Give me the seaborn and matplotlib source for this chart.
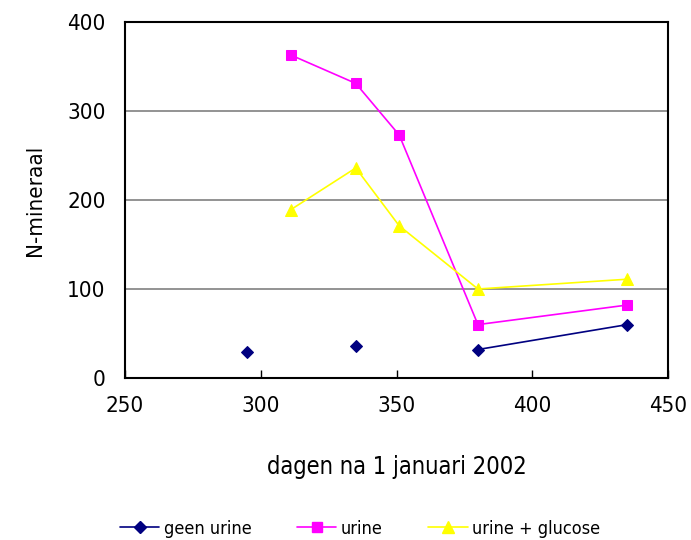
import numpy as np
import pandas as pd
import seaborn as sns
import matplotlib
matplotlib.use("Agg")
import matplotlib.pyplot as plt
from matplotlib.lines import Line2D

days = [295, 311, 335, 351, 380, 435]
geen_urine = [29, np.nan, 36, np.nan, 32, 60]
urine = [np.nan, 363, 331, 273, 60, 82]
urine_glucose = [np.nan, 189, 236, 171, 100, 111]

series_names = ["geen urine", "urine", "urine + glucose"]
series_vals = [geen_urine, urine, urine_glucose]
colors = ["#000080", "#FF00FF", "#FFFF00"]
markers = ["D", "s", "^"]
msizes = [6.5, 7, 8.5]

sns.set_theme(style="white")
plt.rcParams["font.family"] = ["DejaVu Sans"]
plt.rcParams["font.stretch"] = "condensed"
plt.rcParams["text.color"] = "black"
plt.rcParams["axes.labelcolor"] = "black"
plt.rcParams["xtick.color"] = "black"
plt.rcParams["ytick.color"] = "black"

fig = plt.figure(figsize=(6.91, 5.40), dpi=100)
ax = fig.add_axes([125/691, 1-378/540, (668-125)/691, (378-22)/540])

for name, vals, c, m, ms in zip(series_names, series_vals, colors, markers, msizes):
    df = pd.DataFrame({"dag": days, "N": vals})
    df["seg"] = df["N"].isna().cumsum()
    df = df.dropna()
    sns.lineplot(data=df, x="dag", y="N", units="seg", estimator=None,
                 color=c, marker=m, markersize=ms, markeredgecolor=c,
                 linewidth=1.2, ax=ax, legend=False)

ax.set_xlim(250, 450)
ax.set_ylim(0, 400)
ax.set_xticks([250, 300, 350, 400, 450])
ax.set_yticks([0, 100, 200, 300, 400])
ax.set_xticklabels(["250", "300", "350", "400", "450"])
for y in [100, 200, 300]:
    ax.axhline(y, color="#808080", linewidth=1.2, zorder=0)
for s in ax.spines.values():
    s.set_color("black")
    s.set_linewidth(1.5)
ax.tick_params(axis="x", direction="in", length=6, width=1, colors="black",
               labelsize=16, pad=13, bottom=True)
ax.tick_params(axis="y", length=0, labelsize=16, pad=14)
ax.set_xlabel("dagen na 1 januari 2002", fontsize=17, labelpad=28)
ax.set_ylabel("N-mineraal", fontsize=16, labelpad=16)

handles = [Line2D([], [], color=c, marker=m, markersize=ms, markeredgecolor=c, linewidth=1.2)
           for c, m, ms in zip(colors, markers, msizes)]
fig.legend(handles, series_names, loc="lower center", bbox_to_anchor=(0.521, -0.026),
           ncol=3, frameon=False, fontsize=13, handlelength=2.2, handletextpad=0.25,
           columnspacing=2.5)

fig.savefig("out.png", dpi=100)
